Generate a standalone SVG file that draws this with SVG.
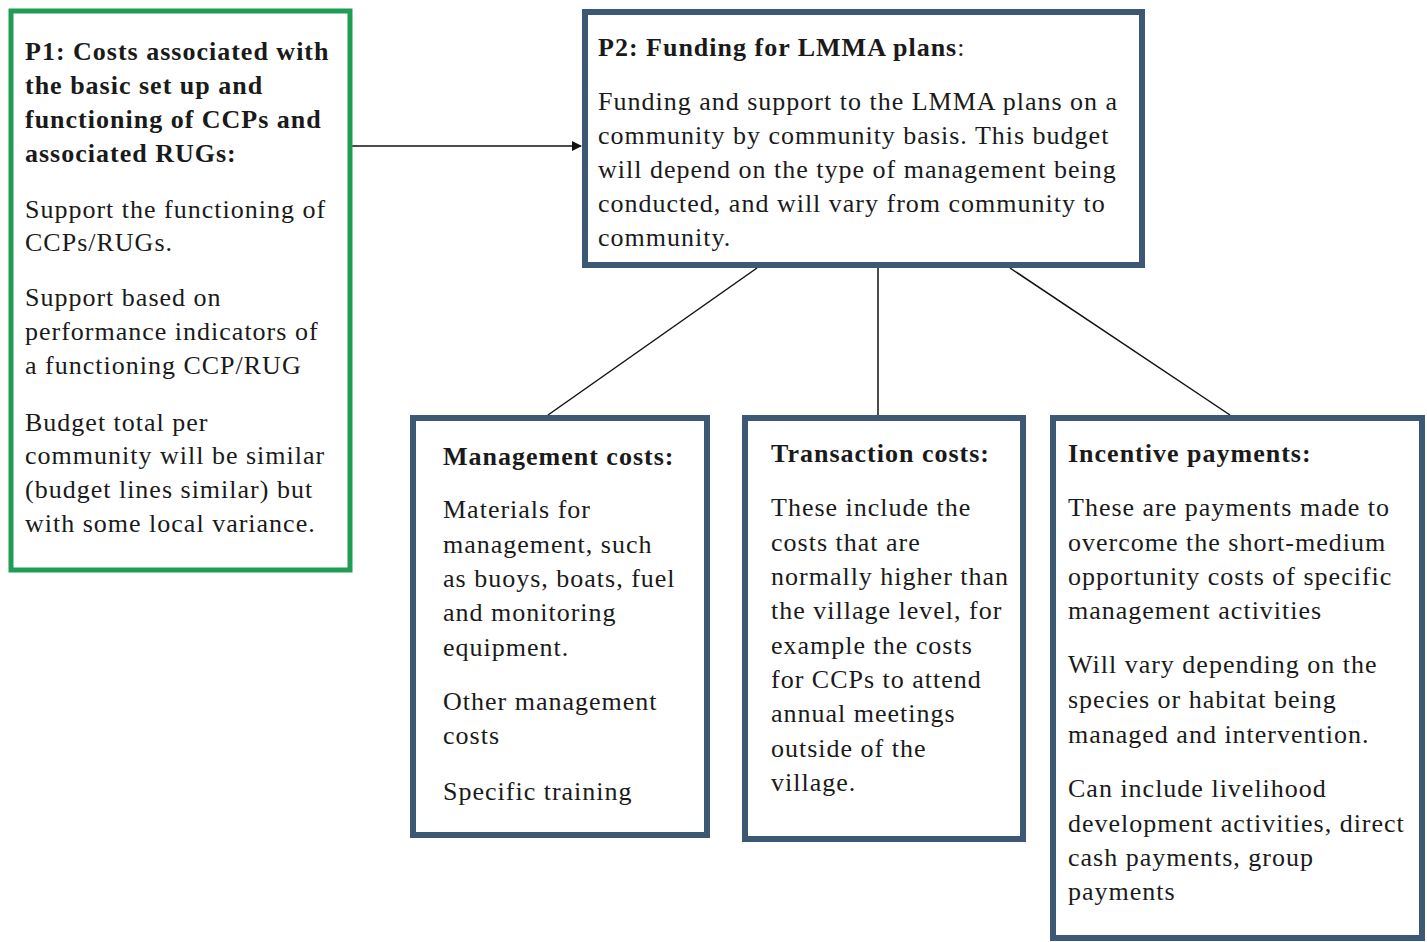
<svg xmlns="http://www.w3.org/2000/svg" width="1427" height="942" viewBox="0 0 1427 942">
<defs>
<style>
text{font-family:"Liberation Serif","Times New Roman",serif;font-size:26px;letter-spacing:1px;fill:#1a1a1a}
.b{font-weight:bold}
.green{fill:#fff;stroke:#1f9d55;stroke-width:5}
.blue{fill:#fff;stroke:#3d5875;stroke-width:6}
.conn{stroke:#111;stroke-width:1.5;fill:none}
</style>
<marker id="ah" markerWidth="10" markerHeight="10" refX="9" refY="5" orient="auto" markerUnits="userSpaceOnUse">
<path d="M0,0 L10,5 L0,10 z" fill="#111"/>
</marker>
</defs>
<rect width="1427" height="942" fill="#fff"/>
<g id="connectors">
<line class="conn" x1="352" y1="146" x2="581" y2="146" marker-end="url(#ah)"/>
<line class="conn" x1="757" y1="268" x2="548" y2="415"/>
<line class="conn" x1="878" y1="268" x2="878" y2="415"/>
<line class="conn" x1="1010" y1="268" x2="1230" y2="415"/>
</g>
<g id="p1">
<rect class="green" x="11" y="11" width="339" height="559"/>
<text class="b" x="25" y="60">P1: Costs associated with</text>
<text class="b" x="25" y="94">the basic set up and</text>
<text class="b" x="25" y="128">functioning of CCPs and</text>
<text class="b" x="25" y="162">associated RUGs:</text>
<text x="25" y="218">Support the functioning  of</text>
<text x="25" y="251">CCPs/RUGs.</text>
<text x="25" y="306">Support based on</text>
<text x="25" y="340">performance indicators of</text>
<text x="25" y="374">a functioning  CCP/RUG</text>
<text x="25" y="431">Budget total per</text>
<text x="25" y="464">community will be similar</text>
<text x="25" y="498">(budget lines similar) but</text>
<text x="25" y="532">with some local variance.</text>
</g>
<g id="p2">
<rect class="blue" x="585" y="12" width="557" height="253"/>
<text x="598" y="56"><tspan class="b">P2: Funding for LMMA plans</tspan>:</text>
<text x="598" y="110">Funding and support to the LMMA plans on a</text>
<text x="598" y="144">community by community basis. This budget</text>
<text x="598" y="178">will depend on the type of management being</text>
<text x="598" y="212">conducted, and will vary from community to</text>
<text x="598" y="246">community.</text>
</g>
<g id="management">
<rect class="blue" x="413" y="418" width="294" height="417"/>
<text class="b" x="443" y="465">Management costs:</text>
<text x="443" y="518">Materials for</text>
<text x="443" y="553">management, such</text>
<text x="443" y="587">as buoys, boats, fuel</text>
<text x="443" y="621">and monitoring</text>
<text x="443" y="656">equipment.</text>
<text x="443" y="710">Other management</text>
<text x="443" y="744">costs</text>
<text x="443" y="800">Specific training</text>
</g>
<g id="transaction">
<rect class="blue" x="745" y="418" width="278" height="421"/>
<text class="b" x="771" y="462">Transaction costs:</text>
<text x="771" y="516">These include the</text>
<text x="771" y="551">costs that are</text>
<text x="771" y="585">normally higher than</text>
<text x="771" y="619">the village level, for</text>
<text x="771" y="654">example the costs</text>
<text x="771" y="688">for CCPs to attend</text>
<text x="771" y="722">annual meetings</text>
<text x="771" y="757">outside of the</text>
<text x="771" y="791">village.</text>
</g>
<g id="incentive">
<rect class="blue" x="1053" y="418" width="369" height="520"/>
<text class="b" x="1068" y="462">Incentive payments:</text>
<text x="1068" y="516">These are payments made to</text>
<text x="1068" y="551">overcome the short-medium</text>
<text x="1068" y="585">opportunity costs of specific</text>
<text x="1068" y="619">management activities</text>
<text x="1068" y="673">Will vary depending on the</text>
<text x="1068" y="708">species or habitat being</text>
<text x="1068" y="743">managed and intervention.</text>
<text x="1068" y="797">Can include livelihood</text>
<text x="1068" y="832">development activities, direct</text>
<text x="1068" y="866">cash payments, group</text>
<text x="1068" y="900">payments</text>
</g>
</svg>
